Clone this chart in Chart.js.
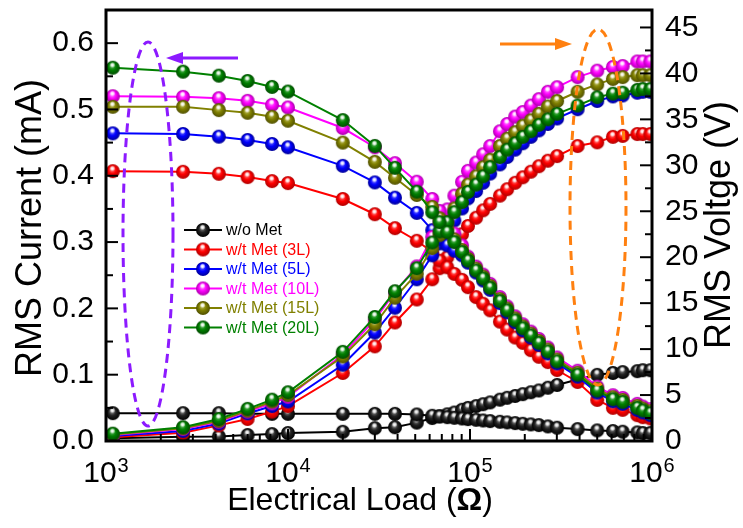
<!DOCTYPE html>
<html>
<head>
<meta charset="utf-8">
<script src="https://cdn.jsdelivr.net/npm/chart.js@4.4.0/dist/chart.umd.min.js"></script>
<style>
html, body { margin: 0; padding: 0; background: #fff; }
</style>
</head>
<body>
<canvas id="mycanvas" width="743" height="528"></canvas>
<script>
// electrical load (ohm)
var loads = [1090, 2650, 4170, 6000, 8170, 10000, 20000, 30000, 38700, 51000, 62000, 68000, 75000, 82000, 90400, 97500,
  108000, 118000, 129000, 146000, 160000, 177000, 195000, 216000, 239000, 268000, 301000, 390000, 500000, 610000,
  690000, 830000, 890000, 980000];

var names = ['w/o Met', 'w/t Met (3L)', 'w/t Met (5L)', 'w/t Met (10L)', 'w/t Met (15L)', 'w/t Met (20L)'];

// RMS current (mA)
var curNoMet = [0.042, 0.042, 0.042, 0.041, 0.041, 0.041, 0.041, 0.041, 0.041, 0.040, 0.038, 0.037, 0.036, 0.035, 0.034, 0.033,
  0.032, 0.031, 0.030, 0.029, 0.028, 0.027, 0.026, 0.025, 0.024, 0.022, 0.020, 0.018, 0.016, 0.015, 0.014, 0.013, 0.012, 0.012];
var cur3L = [0.407, 0.406, 0.403, 0.398, 0.392, 0.389, 0.365, 0.342, 0.321, 0.302, 0.285, 0.272, 0.262, 0.252, 0.243, 0.232,
  0.217, 0.207, 0.197, 0.180, 0.168, 0.156, 0.148, 0.137, 0.127, 0.119, 0.107, 0.089, 0.062, 0.050, 0.047, 0.039, 0.036, 0.034];
var cur5L = [0.464, 0.463, 0.459, 0.454, 0.448, 0.443, 0.415, 0.390, 0.367, 0.344, 0.318, 0.305, 0.295, 0.287, 0.280, 0.269,
  0.254, 0.242, 0.228, 0.208, 0.194, 0.179, 0.167, 0.156, 0.145, 0.132, 0.117, 0.097, 0.073, 0.060, 0.056, 0.047, 0.043, 0.039];
var cur10L = [0.520, 0.519, 0.517, 0.513, 0.507, 0.503, 0.472, 0.443, 0.419, 0.391, 0.365, 0.347, 0.330, 0.313, 0.295, 0.278,
  0.263, 0.251, 0.237, 0.217, 0.203, 0.188, 0.176, 0.165, 0.154, 0.141, 0.126, 0.106, 0.082, 0.069, 0.065, 0.056, 0.052, 0.048];
var cur15L = [0.504, 0.504, 0.499, 0.495, 0.489, 0.483, 0.450, 0.421, 0.397, 0.371, 0.353, 0.336, 0.320, 0.304, 0.288, 0.275,
  0.260, 0.248, 0.234, 0.214, 0.200, 0.185, 0.173, 0.162, 0.151, 0.138, 0.123, 0.103, 0.079, 0.066, 0.062, 0.053, 0.049, 0.045];
var cur20L = [0.563, 0.557, 0.551, 0.543, 0.534, 0.527, 0.484, 0.445, 0.412, 0.376, 0.345, 0.330, 0.315, 0.300, 0.285, 0.272,
  0.257, 0.245, 0.231, 0.211, 0.197, 0.182, 0.170, 0.159, 0.148, 0.135, 0.120, 0.100, 0.076, 0.063, 0.059, 0.050, 0.046, 0.042];

// RMS voltage (V)
var voltNoMet = [0.3, 0.45, 0.5, 0.65, 0.75, 0.87, 1.0, 1.4, 1.5, 2.0, 2.5, 2.7, 2.9, 3.1, 3.4, 3.6,
  3.8, 4.0, 4.2, 4.5, 4.7, 4.9, 5.1, 5.3, 5.5, 5.8, 6.1, 6.7, 7.2, 7.4, 7.5, 7.6, 7.7, 7.7];
var volt3L = [0.4, 0.9, 1.7, 2.4, 3.2, 3.8, 7.4, 10.3, 12.9, 15.4, 17.6, 18.8, 20.0, 21.3, 22.5, 23.4,
  24.3, 25.1, 25.8, 26.7, 27.4, 28.1, 28.7, 29.3, 29.9, 30.5, 31.0, 32.1, 32.5, 33.1, 33.2, 33.4, 33.4, 33.4];
var volt5L = [0.55, 1.1, 1.9, 3.0, 3.8, 4.3, 8.3, 11.8, 14.5, 17.6, 20.2, 21.5, 22.7, 24.0, 25.3, 26.4,
  27.2, 28.1, 29.1, 30.1, 30.9, 31.7, 32.4, 33.1, 33.8, 34.5, 35.1, 36.1, 37.0, 37.5, 37.6, 37.9, 38.0, 38.0];
var volt10L = [0.65, 1.3, 2.1, 3.2, 4.1, 4.8, 9.4, 13.2, 16.2, 19.0, 22.2, 23.8, 25.2, 26.7, 28.2, 29.4,
  30.3, 31.2, 32.1, 33.7, 34.5, 35.3, 35.8, 36.5, 37.2, 38.0, 38.5, 39.6, 40.3, 40.7, 40.8, 41.3, 41.3, 41.3];
var volt15L = [0.7, 1.4, 2.2, 3.3, 4.3, 5.0, 9.2, 12.7, 15.6, 18.2, 21.0, 22.4, 23.8, 25.3, 26.9, 27.9,
  28.8, 29.8, 30.6, 32.1, 32.9, 33.6, 34.3, 34.9, 35.6, 36.4, 37.0, 38.0, 38.8, 39.4, 39.6, 39.8, 39.8, 39.8];
var volt20L = [0.8, 1.5, 2.4, 3.5, 4.5, 5.3, 9.7, 13.5, 16.3, 18.8, 21.6, 22.8, 23.8, 24.9, 26.0, 27.1,
  27.9, 28.8, 29.8, 30.9, 31.7, 32.4, 33.1, 33.7, 34.4, 35.0, 35.6, 36.5, 37.4, 37.8, 37.9, 38.2, 38.3, 38.3];

// axis ticks
var currentTicks = [0, 0.1, 0.2, 0.3, 0.4, 0.5, 0.6];
var voltTicks = [0, 5, 10, 15, 20, 25, 30, 35, 40, 45];
var loadTicks = [1e3, 1e4, 1e5, 1e6];
var loadTickExp = ['3', '4', '5', '6'];

var currents = [curNoMet, cur3L, cur5L, cur10L, cur15L, cur20L];
var volts = [voltNoMet, volt3L, volt5L, volt10L, volt15L, volt20L];

var colors = ['#000000', '#ff0000', '#0000ff', '#ff00ff', '#808000', '#008000'];
var shades = [
  [[150, 150, 150], [35, 35, 35], [0, 0, 0]],
  [[255, 140, 140], [255, 0, 0], [175, 0, 0]],
  [[120, 120, 255], [0, 0, 255], [0, 0, 150]],
  [[255, 160, 255], [255, 0, 255], [170, 0, 170]],
  [[200, 200, 110], [128, 128, 0], [80, 80, 0]],
  [[110, 190, 110], [0, 128, 0], [0, 75, 0]]
];
var FONT = "'Liberation Sans', Arial, sans-serif";

function rgb(a) { return 'rgb(' + a[0] + ',' + a[1] + ',' + a[2] + ')'; }

function ball(i, r) {
  var c = document.createElement('canvas');
  c.width = c.height = r * 2 + 2;
  var g = c.getContext('2d');
  var cx = r + 1, cy = r + 1;
  var grad = g.createRadialGradient(cx - r * 0.15, cy - r * 0.35, r * 0.05, cx, cy, r);
  grad.addColorStop(0, rgb(shades[i][0]));
  grad.addColorStop(0.5, rgb(shades[i][1]));
  grad.addColorStop(1, rgb(shades[i][2]));
  g.fillStyle = grad;
  g.beginPath(); g.arc(cx, cy, r, 0, Math.PI * 2); g.fill();
  var h = g.createRadialGradient(cx - r * 0.05, cy - r * 0.4, 0, cx - r * 0.05, cy - r * 0.4, r * 0.42);
  h.addColorStop(0, 'rgba(255,255,255,1)');
  h.addColorStop(0.45, 'rgba(255,255,255,0.8)');
  h.addColorStop(1, 'rgba(255,255,255,0)');
  g.fillStyle = h;
  g.beginPath(); g.arc(cx, cy, r, 0, Math.PI * 2); g.fill();
  return c;
}

var balls = [];
var datasets = [];
for (var i = 0; i < names.length; i++) {
  balls.push(ball(i, 7));
  var pc = [], pv = [];
  for (var k = 0; k < loads.length; k++) {
    pc.push({x: loads[k], y: currents[i][k]});
    pv.push({x: loads[k], y: volts[i][k]});
  }
  datasets.push({
    label: names[i] + ' current', data: pc, yAxisID: 'y', order: 20 - i,
    borderColor: colors[i], borderWidth: 2, pointStyle: balls[i], pointRadius: 7, fill: false, tension: 0
  });
  datasets.push({
    label: names[i] + ' voltage', data: pv, yAxisID: 'y2', order: 20 - i,
    borderColor: colors[i], borderWidth: 2, pointStyle: balls[i], pointRadius: 7, fill: false, tension: 0
  });
}

function arrow(ctx, x0, x1, y, col) {
  var dir = x1 > x0 ? 1 : -1;
  ctx.strokeStyle = col; ctx.fillStyle = col; ctx.lineWidth = 3; ctx.setLineDash([]);
  ctx.beginPath(); ctx.moveTo(x0, y); ctx.lineTo(x1 - dir * 12, y); ctx.stroke();
  ctx.beginPath(); ctx.moveTo(x1, y); ctx.lineTo(x1 - dir * 17, y - 6); ctx.lineTo(x1 - dir * 17, y + 6); ctx.closePath(); ctx.fill();
}

function noPad(s) {
  s.paddingTop = 0; s.paddingBottom = 0; s.paddingLeft = 0; s.paddingRight = 0;
}

var extras = {
  id: 'extras',
  afterDraw: function(chart) {
    var ctx = chart.ctx, a = chart.chartArea;
    var sx = chart.scales.x, sy = chart.scales.y, sv = chart.scales.y2;
    ctx.save();

    // dashed ellipses and arrows
    ctx.lineWidth = 3;
    ctx.setLineDash([9, 6]);
    ctx.strokeStyle = '#8c1aff';
    ctx.beginPath(); ctx.ellipse(148, 234, 25, 192, 0, 0, Math.PI * 2); ctx.stroke();
    ctx.strokeStyle = '#ff8010';
    ctx.beginPath(); ctx.ellipse(598, 207, 28, 178, 0, 0, Math.PI * 2); ctx.stroke();
    arrow(ctx, 238, 166, 58, '#8c1aff');
    arrow(ctx, 500, 572, 44, '#ff8010');

    // frame
    ctx.setLineDash([]);
    ctx.strokeStyle = '#000';
    ctx.lineWidth = 3;
    ctx.strokeRect(a.left, a.top, a.right - a.left, a.bottom - a.top);

    // inward ticks
    ctx.lineWidth = 2;
    var j, p, d, m;
    for (j = 0; j < currentTicks.length; j++) {
      p = sy.getPixelForValue(currentTicks[j]);
      ctx.beginPath(); ctx.moveTo(a.left, p); ctx.lineTo(a.left + 12, p); ctx.stroke();
      p = sy.getPixelForValue(currentTicks[j] + 0.05);
      if (p > a.top + 2) { ctx.beginPath(); ctx.moveTo(a.left, p); ctx.lineTo(a.left + 7, p); ctx.stroke(); }
    }
    for (j = 0; j < voltTicks.length; j++) {
      p = sv.getPixelForValue(voltTicks[j]);
      ctx.beginPath(); ctx.moveTo(a.right, p); ctx.lineTo(a.right - 12, p); ctx.stroke();
      p = sv.getPixelForValue(voltTicks[j] + 2.5);
      if (p > a.top + 2) { ctx.beginPath(); ctx.moveTo(a.right, p); ctx.lineTo(a.right - 7, p); ctx.stroke(); }
    }
    for (j = 0; j < loadTicks.length; j++) {
      p = sx.getPixelForValue(loadTicks[j]);
      ctx.beginPath(); ctx.moveTo(p, a.bottom); ctx.lineTo(p, a.bottom - 12); ctx.stroke();
      if (j < loadTicks.length - 1) {
        for (m = 2; m < 10; m++) {
          d = sx.getPixelForValue(loadTicks[j] * m);
          ctx.beginPath(); ctx.moveTo(d, a.bottom); ctx.lineTo(d, a.bottom - 7); ctx.stroke();
        }
      }
    }

    // x tick labels with superscripts
    ctx.fillStyle = '#000';
    ctx.textBaseline = 'alphabetic';
    ctx.textAlign = 'left';
    for (j = 0; j < loadTicks.length; j++) {
      p = sx.getPixelForValue(loadTicks[j]);
      ctx.font = '30px ' + FONT;
      var w1 = ctx.measureText('10').width;
      ctx.font = '20px ' + FONT;
      var w2 = ctx.measureText(loadTickExp[j]).width;
      var s = p - (w1 + w2 + 1) / 2;
      ctx.font = '30px ' + FONT;
      ctx.fillText('10', s, 482);
      ctx.font = '20px ' + FONT;
      ctx.fillText(loadTickExp[j], s + w1 + 1, 472);
    }

    // axis titles
    ctx.textAlign = 'left';
    ctx.textBaseline = 'middle';
    ctx.font = '32px ' + FONT;
    var t1 = 'Electrical Load (', t3 = ')';
    var wa = ctx.measureText(t1).width, wc = ctx.measureText(t3).width;
    ctx.font = 'bold 32px ' + FONT;
    var wb = ctx.measureText('\u03A9').width;
    var tx = 360 - (wa + wb + wc) / 2;
    ctx.font = '32px ' + FONT;
    ctx.fillText(t1, tx, 501);
    ctx.fillText(t3, tx + wa + wb, 501);
    ctx.font = 'bold 32px ' + FONT;
    ctx.fillText('\u03A9', tx + wa, 501);

    ctx.textAlign = 'center';
    ctx.font = '36px ' + FONT;
    ctx.save(); ctx.translate(31, 228); ctx.rotate(-Math.PI / 2); ctx.fillText('RMS Current (mA)', 0, 0); ctx.restore();
    ctx.save(); ctx.translate(720, 225); ctx.rotate(-Math.PI / 2); ctx.fillText('RMS Voltge (V)', 0, 0); ctx.restore();

    // legend
    ctx.textAlign = 'left';
    ctx.font = '16px ' + FONT;
    for (j = 0; j < names.length; j++) {
      var ly = 230 + j * 19.5;
      ctx.strokeStyle = colors[j];
      ctx.lineWidth = 2;
      ctx.beginPath(); ctx.moveTo(184, ly); ctx.lineTo(222, ly); ctx.stroke();
      ctx.drawImage(balls[j], 203 - balls[j].width / 2, ly - balls[j].height / 2);
      ctx.fillStyle = colors[j];
      ctx.fillText(names[j], 226, ly + 1);
    }
    ctx.restore();
  }
};

var ctx = document.getElementById('mycanvas');
var chart = new Chart(ctx, {
  type: 'line',
  data: { datasets: datasets },
  plugins: [extras],
  options: {
    responsive: false,
    animation: false,
    layout: { padding: { top: 10, left: 0, right: 0, bottom: 0 } },
    plugins: { legend: { display: false }, tooltip: { enabled: false } },
    scales: {
      x: {
        type: 'logarithmic', position: 'bottom', min: 1000, max: 1000000,
        grid: { display: false, drawTicks: false }, border: { display: false },
        ticks: { display: false },
        afterFit: function(s) { s.height = 87; noPad(s); }
      },
      y: {
        type: 'linear', position: 'left', min: 0, max: 0.65,
        grid: { display: false, drawTicks: false }, border: { display: false },
        ticks: {
          stepSize: 0.1, includeBounds: false, padding: 12, color: '#000',
          font: { family: FONT, size: 30 },
          callback: function(v) { return v.toFixed(1); }
        },
        afterFit: function(s) { s.width = 106; noPad(s); }
      },
      y2: {
        type: 'linear', position: 'right', min: 0, max: 46.9,
        grid: { display: false, drawTicks: false }, border: { display: false },
        ticks: {
          stepSize: 5, includeBounds: false, padding: 13, color: '#000',
          font: { family: FONT, size: 30 },
          callback: function(v) { return v; }
        },
        afterFit: function(s) { s.width = 91; noPad(s); }
      }
    }
  }
});
</script>
</body>
</html>
